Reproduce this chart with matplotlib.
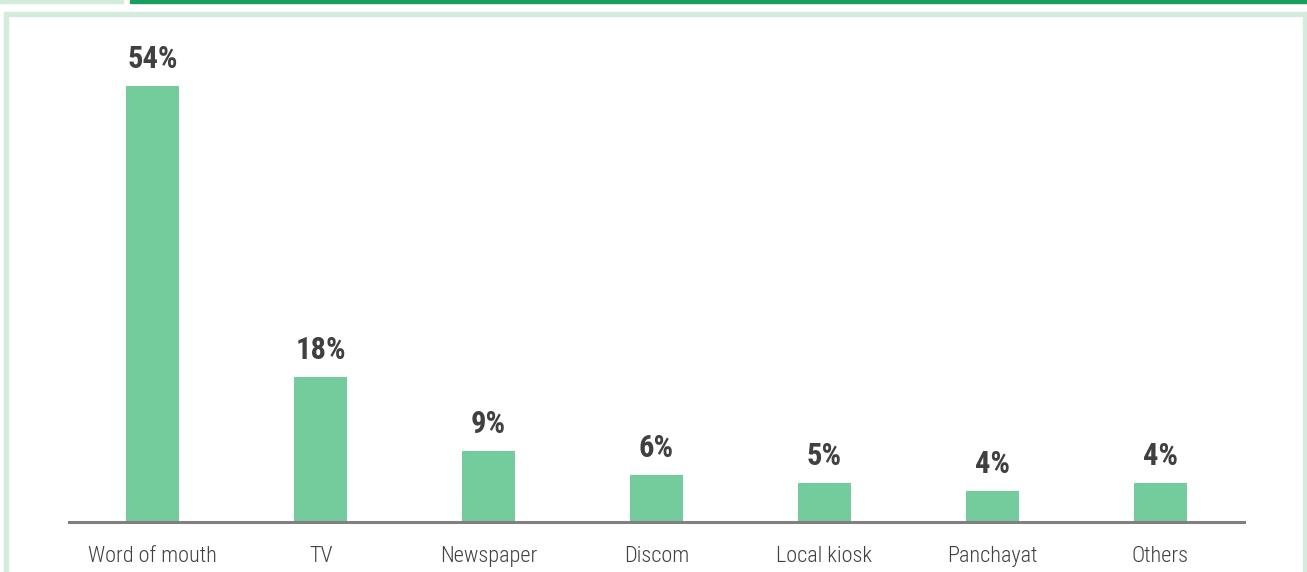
import matplotlib
matplotlib.use('Agg')
import matplotlib.pyplot as plt
from matplotlib.patches import Rectangle

categories = ['Word of mouth', 'TV', 'Newspaper', 'Discom', 'Local kiosk', 'Panchayat', 'Others']
# bar heights as drawn in the picture (Others is drawn a bit taller than its label)
heights = [54, 18, 8.8, 5.8, 4.8, 3.85, 4.8]
labels = ['54%', '18%', '9%', '6%', '5%', '4%', '4%']

plt.rcParams['font.family'] = ['Roboto Condensed', 'Liberation Sans Narrow', 'Archivo Narrow', 'Liberation Sans']

W, H = 1307, 572
fig = plt.figure(figsize=(W / 100, H / 100), dpi=100)

# decorations: top strips and light green frame
light = '#d3ecdc'
dark = '#17a05d'
fig.patches.append(Rectangle((0, 1 - 3 / H), 123 / W, 3 / H, transform=fig.transFigure, color=light, zorder=0))
fig.patches.append(Rectangle((130 / W, 1 - 3 / H), 1 - 130 / W, 3 / H, transform=fig.transFigure, color=dark, zorder=0))
fig.patches.append(Rectangle((4 / W, 0), 4 / W, 1 - 12 / H, transform=fig.transFigure, color=light, zorder=0))
fig.patches.append(Rectangle((4 / W, 1 - 16 / H), 1 - 4 / W, 4 / H, transform=fig.transFigure, color=light, zorder=0))
fig.patches.append(Rectangle((1 - 4 / W, 0), 4 / W, 1 - 12 / H, transform=fig.transFigure, color=light, zorder=0))

# axes: x from 69 to 1244 px, baseline at y=522, top at y=40
ax = fig.add_axes([69 / W, (H - 522) / H, (1244 - 69) / W, (522 - 40) / H])
ax.set_facecolor('none')
x = list(range(len(categories)))
ax.bar(x, heights, width=0.315, color='#74cc9d', zorder=2)
ax.set_xlim(-0.5, 6.5)
top = 54 * (522 - 40) / (522 - 86)
ax.set_ylim(0, top)

for i, (h, lab) in enumerate(zip(heights, labels)):
    ax.annotate(lab, (i, h), xytext=(0, 13), textcoords='offset points',
                ha='center', va='baseline', fontsize=22, fontweight='bold', color='#404040')

for s in ['top', 'right', 'left']:
    ax.spines[s].set_visible(False)
ax.spines['bottom'].set_color('#808080')
ax.spines['bottom'].set_linewidth(2.2)
ax.set_yticks([])
ax.set_xticks(x)
ax.set_xticklabels(categories, fontsize=16, fontweight='light', color='#404040')
ax.tick_params(axis='x', length=0, pad=17)

fig.savefig('out.png', dpi=100)
